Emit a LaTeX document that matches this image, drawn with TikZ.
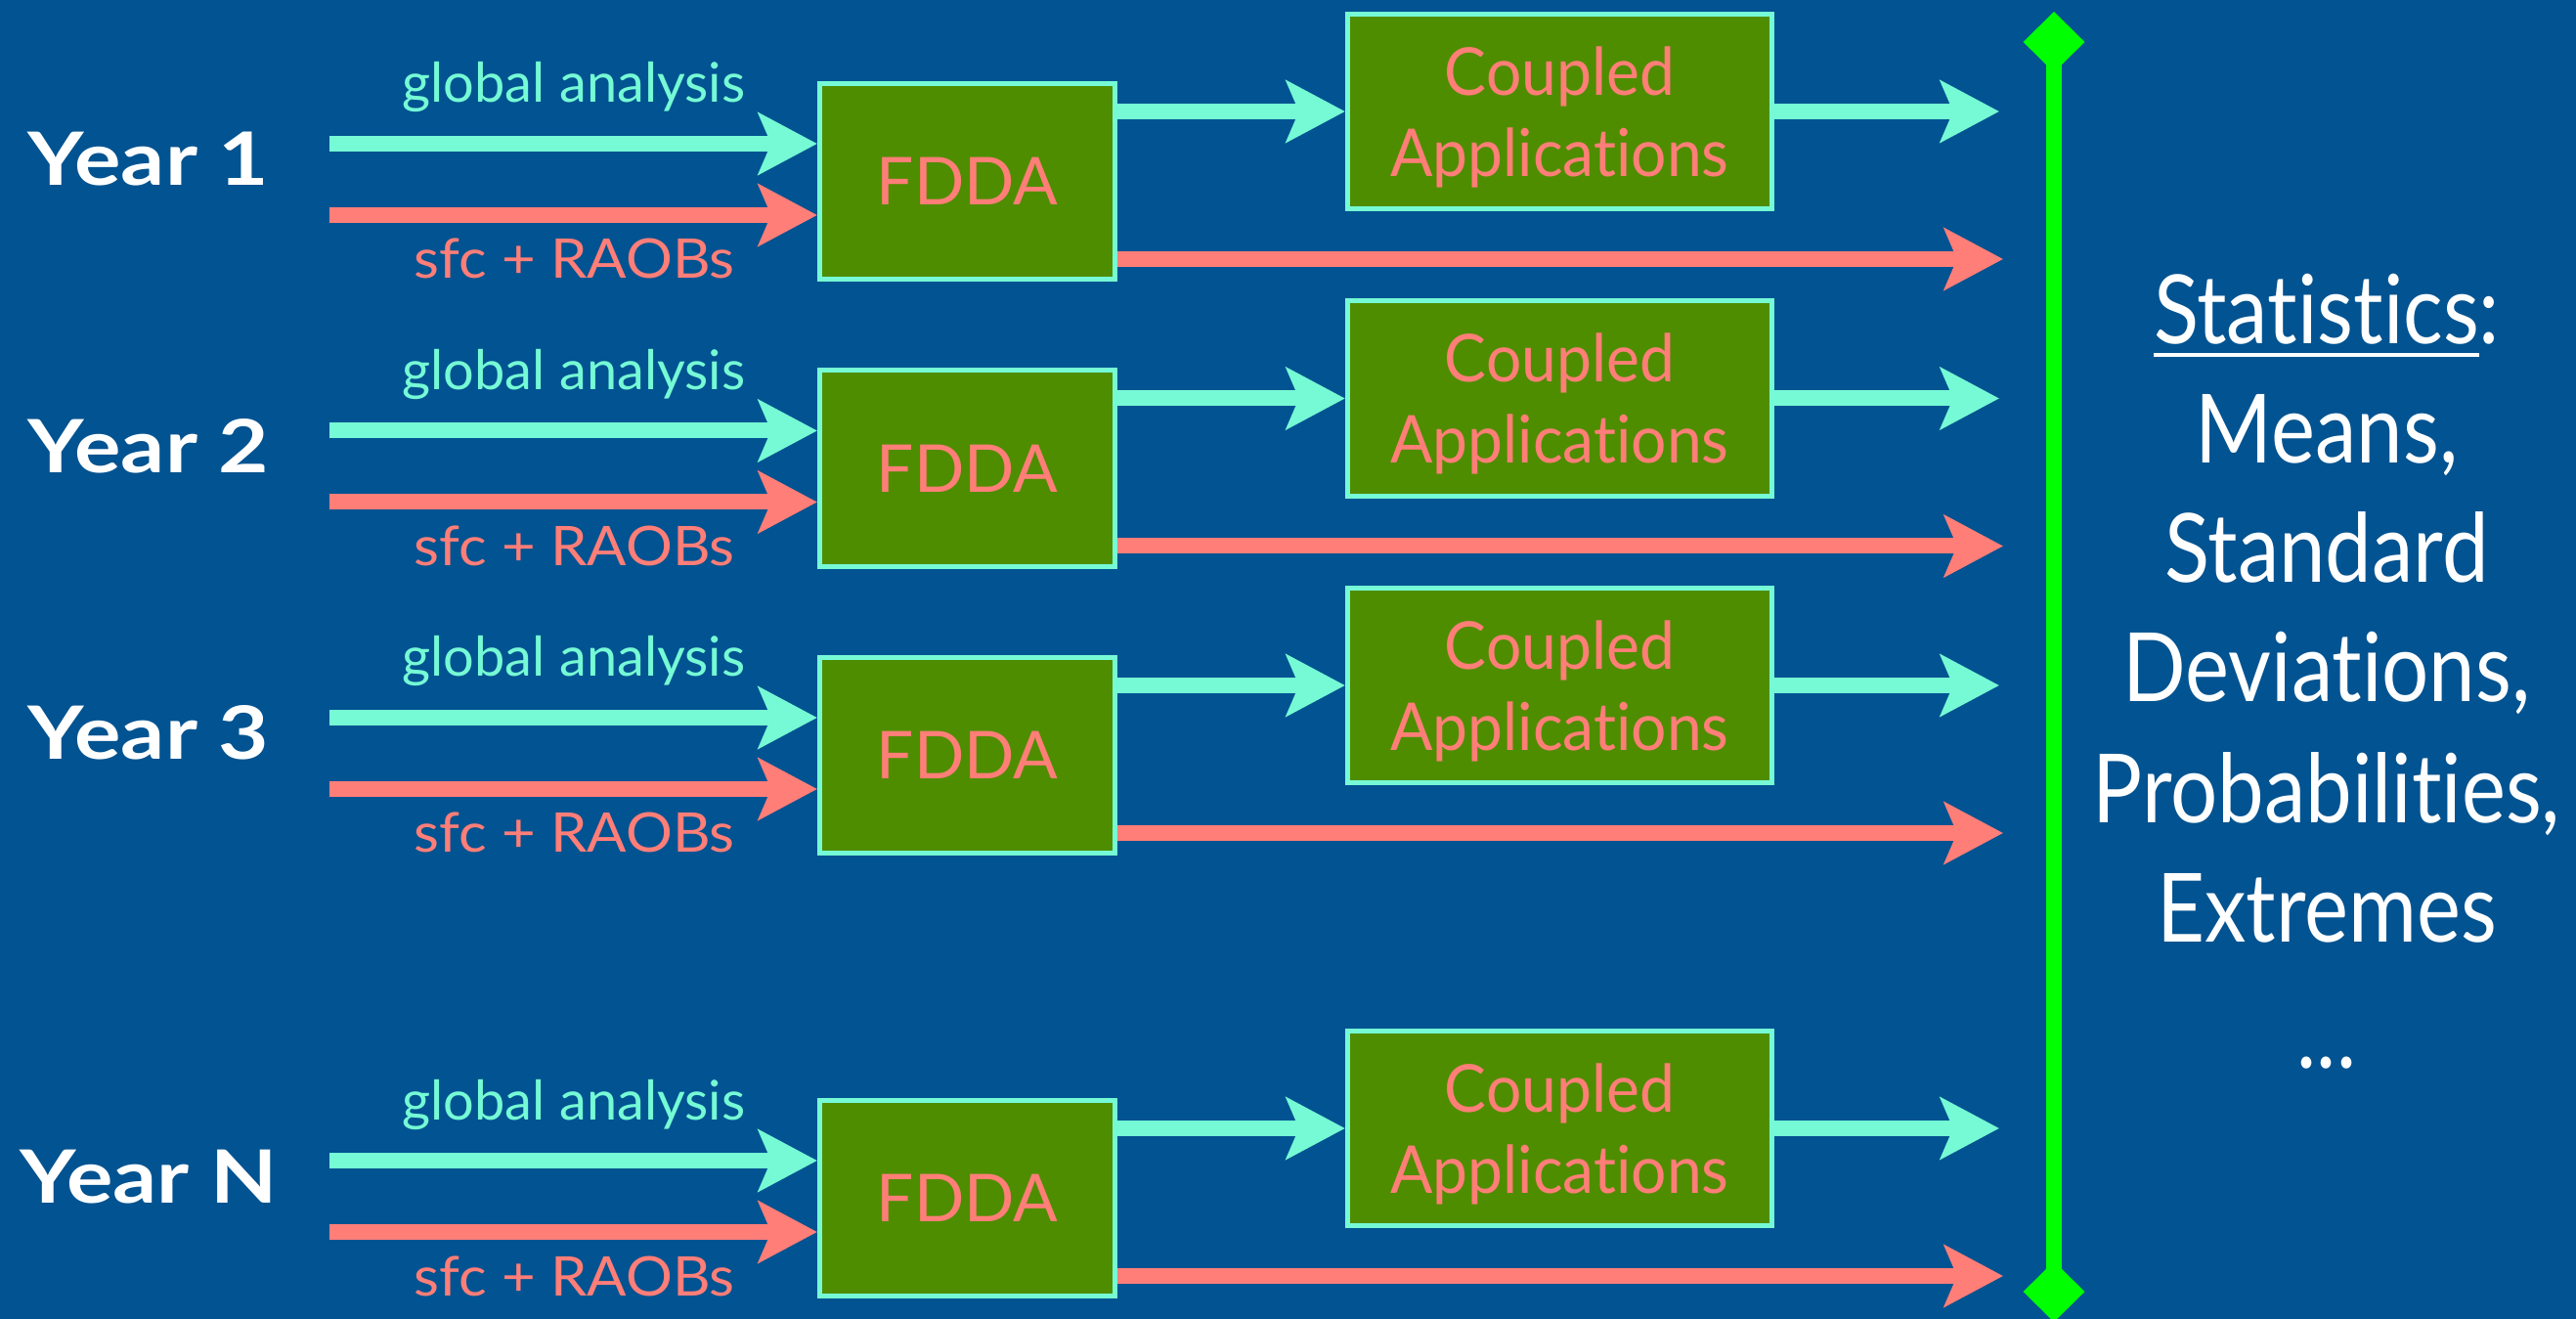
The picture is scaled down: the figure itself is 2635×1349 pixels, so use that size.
\documentclass[tikz,border=0pt]{standalone}
\usepackage{fontspec}
\setmainfont{Lato}[Ligatures=NoCommon]
\newfontfamily\rtfont{Lato}[FakeStretch=0.87, Ligatures=NoCommon]
\newfontfamily\yrfont{Lato}[FakeStretch=1.18, Ligatures=NoCommon]
\newfontfamily\cpfont{Lato}[FakeStretch=0.95, Ligatures=NoCommon]
\newfontfamily\sffont{Lato}[FakeStretch=1.07, Ligatures=NoCommon]
\newcommand\statul[1]{\setbox0\hbox{#1}\rlap{\rule[-3.63pt]{\wd0}{1pt}}\box0}
\usetikzlibrary{arrows.meta}
\definecolor{bgblue}{RGB}{2,83,145}
\definecolor{aqua}{RGB}{117,250,213}
\definecolor{salmon}{RGB}{255,126,120}
\definecolor{boxgreen}{RGB}{79,141,0}
\definecolor{lime}{RGB}{0,255,0}
\begin{document}
\begin{tikzpicture}[x=0.01cm,y=-0.01cm,
  fddabox/.style={draw=aqua, fill=boxgreen, line width=1.42pt, minimum width=3.02cm, minimum height=2.00cm, inner sep=0pt, text=salmon, font=\fontsize{19.2}{23.6}\selectfont},
  coupbox/.style={draw=aqua, fill=boxgreen, line width=1.42pt, minimum width=4.34cm, minimum height=1.99cm, inner sep=0pt, text=salmon, align=center, text depth=0pt, font=\cpfont\fontsize{19.2}{23.6}\selectfont},
  yearlbl/.style={text=white, anchor=base, inner sep=0pt, font=\yrfont\bfseries\fontsize{21.4}{25}\selectfont},
  galbl/.style={text=aqua, anchor=base, inner sep=0pt, font=\fontsize{15.9}{19}\selectfont},
  slbl/.style={text=salmon, anchor=base, inner sep=0pt, font=\sffont\fontsize{15.9}{19}\selectfont},
  rtxt/.style={text=white, anchor=base, inner sep=0pt, font=\rtfont\fontsize{27.8}{34.7}\selectfont},
  garrow/.style={draw=aqua, line width=4.55pt, -{Stealth[length=17.1pt, width=17.9pt, inset=3.7pt]}},
  rarrow/.style={draw=salmon, line width=4.55pt, -{Stealth[length=17.1pt, width=17.9pt, inset=3.7pt]}},
  statline/.style={draw=lime, line width=4.55pt, {Diamond[length=17.6pt, width=17.9pt]}-{Diamond[length=17.6pt, width=17.9pt]}}
]
\fill[bgblue] (0,0) rectangle (2635,1349);
\useasboundingbox (0,0) rectangle (2635,1349);

\foreach \i/\y in {1/147,2/440.5,3/734,N/1187}{
  \node[yearlbl] (year\i) at (152,\y+43) {Year \i};
  \node[fddabox] (f\i) at (989.5,\y+38.5) {FDDA};
  \node[coupbox] (c\i) at (1595.5,\y-33) {Coupled\\Applications};
  \coordinate (gin\i) at (337,\y);
  \coordinate (rin\i) at (337,\y+73);
  \coordinate (gout\i) at (2045,\y-33);
  \coordinate (rout\i) at (2049,\y+118);
  \node[galbl] (gl\i) at (587,\y-42) {global analysis};
  \node[slbl] (sl\i) at (587.5,\y+138) {sfc + RAOBs};
  \draw[garrow] (gin\i) -- (gin\i -| f\i.west);
  \draw[rarrow] (rin\i) -- (rin\i -| f\i.west);
  \draw[garrow] (f\i.east |- c\i.west) -- (c\i.west);
  \draw[garrow] (c\i.east) -- (gout\i);
  \draw[rarrow] (f\i.east |- rout\i) -- (rout\i);
}

\coordinate (vt) at (2101,12);
\coordinate (vb) at (2101,1352);
\draw[statline] (vt) -- (vb);

\node[rtxt] (s1) at (2380,352) {\statul{Statistics}:};
\node[rtxt] (s2) at (2380,474) {Means,};
\node[rtxt] (s3) at (2380,596) {Standard};
\node[rtxt] (s4) at (2380,718) {Deviations,};
\node[rtxt] (s5) at (2380,842) {Probabilities,};
\node[rtxt] (s6) at (2380,963) {Extremes};
\node[rtxt] (s7) at (2380,1092) {...};
\end{tikzpicture}
\end{document}
